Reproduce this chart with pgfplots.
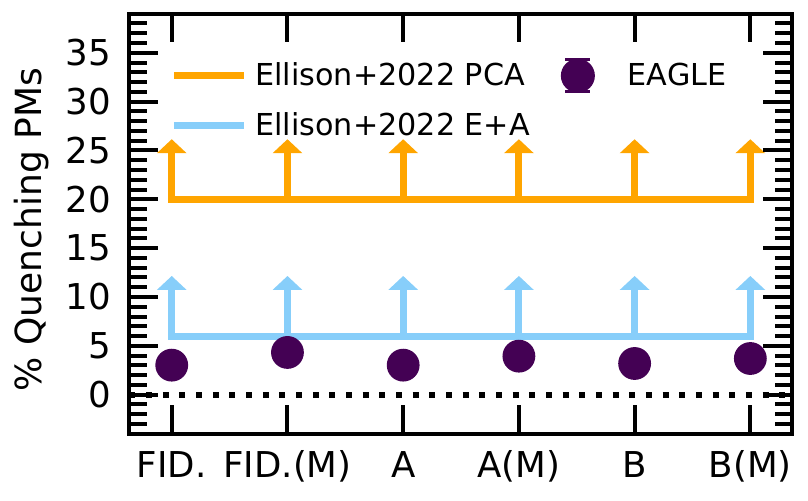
\documentclass[border=0pt]{standalone}
\usepackage{pgfplots}
\pgfplotsset{compat=1.18}
\usepackage{fontspec}
\setmainfont{DejaVu Sans}
\usetikzlibrary{arrows.meta}
\definecolor{mplorange}{RGB}{255,165,0}
\definecolor{mplblue}{RGB}{135,206,250}
\definecolor{eagle}{RGB}{68,1,84}
\begin{document}
\begin{tikzpicture}
\begin{axis}[
  scale only axis, width=331.25pt, height=210pt,
  line width=2pt,
  xmin=-0.365, xmax=5.36, ymin=-4, ymax=39,
  xtick={0,1,2,3,4,5},
  xticklabels={FID.,FID.(M),A,A(M),B,B(M)},
  ytick={0,5,10,15,20,25,30,35},
  yticklabels={0,5,10,15,20,25,30,35},
  major tick length=14.3pt,
  tick style={black, line width=2pt},
  tick label style={font=\fontsize{17.8}{21}\selectfont},
  xticklabel style={inner sep=0pt, anchor=base, yshift=-21.8pt},
  yticklabel style={inner sep=0pt, anchor=east, xshift=-8.2pt},
  ylabel={\% Quenching PMs},
  every axis y label/.style={at={(axis description cs:-0.1472,0.486)}, rotate=90, anchor=center, font=\fontsize{18}{21}\selectfont},
  legend columns=2,
  legend cell align=left,
  legend style={draw=none, fill=none, at={(axis description cs:0.0588,0.888)}, anchor=north west,
    inner sep=0pt, row sep=12pt,
    nodes={inner sep=0pt, font=\fontsize{15.1}{18}\selectfont},
    /tikz/every odd column/.append style={column sep=4pt},
    /tikz/every even column/.append style={column sep=6.5pt}},
  clip=true,
]
% zero line
\addplot[black, line width=3pt, dash pattern=on 3pt off 5.33pt, forget plot] coordinates {(-0.365,0) (5.36,0)};
% Ellison PCA
\addplot[mplorange, line width=3.5pt, line cap=rect, forget plot] coordinates {(0,20) (1,20) (2,20) (3,20) (4,20) (5,20)};
\addplot[mplorange, line width=3.5pt, -{Triangle[width=14.5pt,length=7pt]}, quiver={u=0,v=6.15}, forget plot] coordinates {(0,20) (1,20) (2,20) (3,20) (4,20) (5,20)};
% Ellison E+A
\addplot[mplblue, line width=3.5pt, line cap=rect, forget plot] coordinates {(0,6) (1,6) (2,6) (3,6) (4,6) (5,6)};
\addplot[mplblue, line width=3.5pt, -{Triangle[width=14.5pt,length=7pt]}, quiver={u=0,v=6.15}, forget plot] coordinates {(0,6) (1,6) (2,6) (3,6) (4,6) (5,6)};
% EAGLE
\addplot[forget plot, only marks, mark=*, mark size=7.2pt, mark options={draw=none, fill=eagle}, eagle]
  coordinates {(0,3.02) (1,4.32) (2,3.02) (3,3.94) (4,3.19) (5,3.7)};
% inward ticks drawn as short segments from the frame
\addplot[forget plot, black, line width=2pt, quiver={u=0.2472,v=0}]
  coordinates {(-0.365,0) (-0.365,5) (-0.365,10) (-0.365,15) (-0.365,20) (-0.365,25) (-0.365,30) (-0.365,35)};
\addplot[forget plot, black, line width=2pt, quiver={u=-0.2472,v=0}]
  coordinates {(5.36,0) (5.36,5) (5.36,10) (5.36,15) (5.36,20) (5.36,25) (5.36,30) (5.36,35)};
\addplot[forget plot, black, line width=2pt, quiver={u=0.1486,v=0}]
  coordinates {(-0.365,-3) (-0.365,-2) (-0.365,-1) (-0.365,1) (-0.365,2) (-0.365,3) (-0.365,4)
    (-0.365,6) (-0.365,7) (-0.365,8) (-0.365,9) (-0.365,11) (-0.365,12) (-0.365,13) (-0.365,14)
    (-0.365,16) (-0.365,17) (-0.365,18) (-0.365,19) (-0.365,21) (-0.365,22) (-0.365,23) (-0.365,24)
    (-0.365,26) (-0.365,27) (-0.365,28) (-0.365,29) (-0.365,31) (-0.365,32) (-0.365,33) (-0.365,34)
    (-0.365,36) (-0.365,37) (-0.365,38)};
\addplot[forget plot, black, line width=2pt, quiver={u=-0.1486,v=0}]
  coordinates {(5.36,-3) (5.36,-2) (5.36,-1) (5.36,1) (5.36,2) (5.36,3) (5.36,4)
    (5.36,6) (5.36,7) (5.36,8) (5.36,9) (5.36,11) (5.36,12) (5.36,13) (5.36,14)
    (5.36,16) (5.36,17) (5.36,18) (5.36,19) (5.36,21) (5.36,22) (5.36,23) (5.36,24)
    (5.36,26) (5.36,27) (5.36,28) (5.36,29) (5.36,31) (5.36,32) (5.36,33) (5.36,34)
    (5.36,36) (5.36,37) (5.36,38)};
\addplot[forget plot, black, line width=2pt, quiver={u=0,v=2.928}]
  coordinates {(0,-4) (1,-4) (2,-4) (3,-4) (4,-4) (5,-4)};
\addplot[forget plot, black, line width=2pt, quiver={u=0,v=-2.928}]
  coordinates {(0,39) (1,39) (2,39) (3,39) (4,39) (5,39)};
% legend
\addlegendimage{legend image code/.code={\draw[mplorange, line width=3.5pt] (0pt,0pt) -- (35pt,0pt);}}
\addlegendentry{Ellison+2022 PCA}
\addlegendimage{legend image code/.code={\path[draw=none,fill=none] (0pt,-2pt) rectangle (38.5pt,2pt);
  \fill[eagle,overlay] (17.5pt,0pt) circle (7.5pt);
  \draw[eagle,overlay,line width=1.4pt] (11.25pt,8pt) -- (23.75pt,8pt) (11.25pt,-8pt) -- (23.75pt,-8pt) (17.5pt,-8pt) -- (17.5pt,8pt);}}
\addlegendentry{EAGLE}
\addlegendimage{legend image code/.code={\draw[mplblue, line width=3.5pt] (0pt,0pt) -- (35pt,0pt);}}
\addlegendentry{Ellison+2022 E+A}
\end{axis}
\pgfresetboundingbox
\path (-64.75pt,-33.15pt) rectangle (339.25pt,216.85pt);
\end{tikzpicture}
\end{document}
